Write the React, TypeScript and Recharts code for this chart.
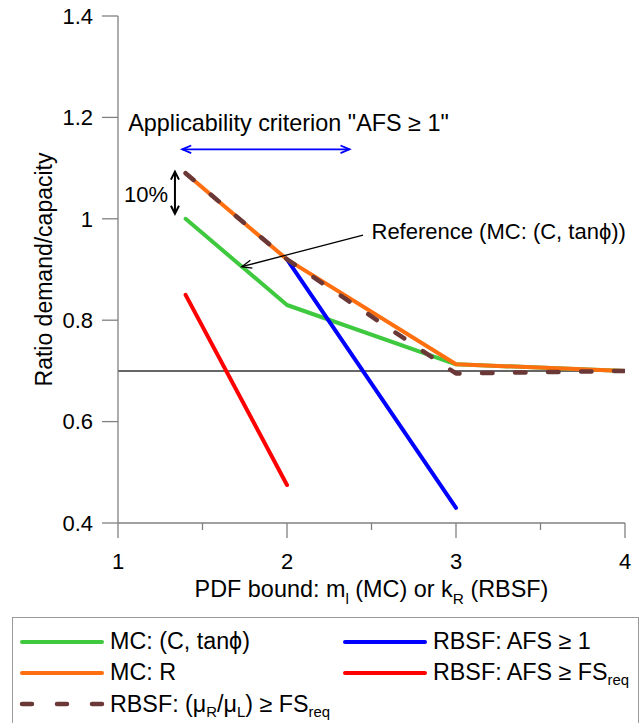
import React from 'react';
import { LineChart, Line, XAxis, YAxis, ReferenceLine, ReferenceDot, Legend } from 'recharts';

const FONT = '"Liberation Sans", Arial, Helvetica, sans-serif';

// ---------- data ----------
const mcCTanPhiX = [1.4, 2, 3, 4];
const mcCTanPhiY = [1.0, 0.83, 0.713, 0.7];
const mcRX = [1.4, 2, 3, 4];
const mcRY = [1.09, 0.92, 0.713, 0.7];
const rbsfAfs1X = [2, 3];
const rbsfAfs1Y = [0.92, 0.43];
const rbsfAfsFsX = [1.4, 2];
const rbsfAfsFsY = [0.85, 0.475];
const rbsfMuX = [1.4, 2, 3, 4];
const rbsfMuY = [1.09, 0.92, 0.695, 0.7];

const xTicks = [1, 1.5, 2, 2.5, 3, 3.5, 4];
const xMajorTicks = [1, 2, 3, 4];
const yTicks = [0.4, 0.6, 0.8, 1, 1.2, 1.4];
const thresholdValue = 0.7;

const xAxisTitle = 'PDF bound: m_{l} (MC) or k_{R} (RBSF)';
const yAxisTitle = 'Ratio demand/capacity';
const applicabilityText = 'Applicability criterion "AFS ≥ 1"';
const applicabilityRange = [1.38, 2.37];
const applicabilityLevel = 1.137;
const tenPctText = '10%';
const tenPctRange = [1.093, 1.01];
const tenPctX = 1.337;
const referenceText = 'Reference (MC: (C, tanϕ))';
const referenceArrowFrom = { x: 2.45, y: 0.968 };
const referenceArrowTo = { x: 1.732, y: 0.9055 };

const toPoints = (xs: number[], ys: number[]) => xs.map((x, i) => ({ x, y: ys[i] }));

type Series = { key: string; name: string; data: { x: number; y: number }[]; color: string; dash?: string; width: number };

const green: Series = { key: 'mcCT', name: 'MC: (C, tanϕ)', data: toPoints(mcCTanPhiX, mcCTanPhiY), color: '#3fc93f', width: 4 };
const orange: Series = { key: 'mcR', name: 'MC: R', data: toPoints(mcRX, mcRY), color: '#ff6f0f', width: 4 };
const dashed: Series = { key: 'rbsfMu', name: 'RBSF: (μ_{R}/μ_{L}) ≥ FS_{req}', data: toPoints(rbsfMuX, rbsfMuY), color: '#6b3838', dash: '10.5 22.5', width: 4.5 };
const blue: Series = { key: 'rbsfAfs1', name: 'RBSF: AFS ≥ 1', data: toPoints(rbsfAfs1X, rbsfAfs1Y), color: '#0000ff', width: 4 };
const red: Series = { key: 'rbsfAfsFs', name: 'RBSF: AFS ≥ FS_{req}', data: toPoints(rbsfAfsFsX, rbsfAfsFsY), color: '#ff0000', width: 4 };

const drawOrder = [green, red, blue, orange, dashed];
const legendOrder = [green, orange, dashed, blue, red];

// parse "abc_{sub}def" into segments
const parseRich = (s: string) => {
  const out: { t: string; sub: boolean }[] = [];
  const re = /_\{([^}]*)\}/g;
  let last = 0;
  let m: RegExpExecArray | null;
  while ((m = re.exec(s))) {
    if (m.index > last) out.push({ t: s.slice(last, m.index), sub: false });
    out.push({ t: m[1], sub: true });
    last = m.index + m[0].length;
  }
  if (last < s.length) out.push({ t: s.slice(last), sub: false });
  return out;
};

const richSvg = (s: string, fs: number) => {
  const segs = parseRich(s);
  let shifted = false;
  return segs.map((seg, i) => {
    let dy = 0;
    if (seg.sub && !shifted) { dy = fs * 0.28; shifted = true; }
    else if (!seg.sub && shifted) { dy = -fs * 0.28; shifted = false; }
    return (
      <tspan key={i} dy={dy} fontSize={seg.sub ? fs * 0.66 : fs}>{seg.t}</tspan>
    );
  });
};

const richHtml = (s: string) =>
  parseRich(s).map((seg, i) =>
    seg.sub ? (
      <sub key={i} style={{ fontSize: '0.64em', verticalAlign: '-0.35em', lineHeight: 0 }}>{seg.t}</sub>
    ) : (
      <span key={i}>{seg.t}</span>
    )
  );

const XTick = (props: any) => {
  const { x, y, payload } = props;
  const v = payload.value;
  const major = xMajorTicks.includes(v);
  const axisY = y - 30;
  return (
    <g>
      <line x1={x} x2={x} y1={axisY} y2={axisY + (major ? 15 : 7)} stroke="#808080" strokeWidth={1.3} />
      {major && (
        <text x={x} y={y} dy="0.71em" textAnchor="middle" fontSize={22} fontFamily={FONT} fill="#000">
          {v}
        </text>
      )}
    </g>
  );
};

const arrowShape = (color: string, width: number, both: boolean, headLen: number, headHalf: number) => (p: any) => {
  const x1 = Number(p.x1), y1 = Number(p.y1), x2 = Number(p.x2), y2 = Number(p.y2);
  if (![x1, y1, x2, y2].every(isFinite)) return <g />;
  const dx = x2 - x1, dy = y2 - y1;
  const len = Math.hypot(dx, dy) || 1;
  const ux = dx / len, uy = dy / len;
  const nx = -uy, ny = ux;
  const head = (hx: number, hy: number, dirx: number, diry: number) =>
    `M${hx - dirx * headLen + nx * headHalf},${hy - diry * headLen + ny * headHalf} L${hx},${hy} L${hx - dirx * headLen - nx * headHalf},${hy - diry * headLen - ny * headHalf}`;
  return (
    <g>
      <line x1={x1} y1={y1} x2={x2} y2={y2} stroke={color} strokeWidth={width} />
      <path d={head(x2, y2, ux, uy)} fill="none" stroke={color} strokeWidth={width} strokeLinejoin="miter" />
      {both && <path d={head(x1, y1, -ux, -uy)} fill="none" stroke={color} strokeWidth={width} strokeLinejoin="miter" />}
    </g>
  );
};

const textShape = (txt: string, anchor: 'start' | 'end' | 'middle', fs: number) => (p: any) => (
  <text x={p.cx} y={p.cy} textAnchor={anchor} fontSize={fs} fontFamily={FONT} fill="#000">
    {txt}
  </text>
);

const LegendBox = () => (
  <div
    style={{
      boxSizing: 'border-box',
      width: 627,
      height: 130,
      border: '1.5px solid #9a9a9a',
      padding: '8px 0 0 6px',
      display: 'grid',
      gridTemplateColumns: '323px auto',
      gridTemplateRows: '31.3px 31.3px 31.3px',
      gridAutoFlow: 'column',
      fontFamily: FONT,
      fontSize: 23.3,
      color: '#000',
      background: '#fff',
    }}
  >
    {legendOrder.map((s) => (
      <div key={s.key} style={{ display: 'flex', alignItems: 'center', whiteSpace: 'nowrap' }}>
        <svg width={86} height={12} style={{ marginRight: 5, flex: 'none' }}>
          <line
            x1={3}
            x2={83}
            y1={6}
            y2={6}
            stroke={s.color}
            strokeWidth={s.dash ? 4.5 : 4}
            strokeLinecap="round"
            strokeDasharray={s.dash ? '10 25' : undefined}
          />
        </svg>
        <span>{richHtml(s.name)}</span>
      </div>
    ))}
  </div>
);

export default function App() {
  return (
    <div style={{ position: 'absolute', left: 0, top: 0, width: 642, height: 723, background: '#fff', overflow: 'hidden' }}>
      <LineChart width={642} height={723} margin={{ top: 16, right: 17, left: 38, bottom: 120 }}>
        <XAxis
          type="number"
          dataKey="x"
          domain={[1, 4]}
          ticks={xTicks}
          allowDataOverflow
          tick={<XTick />}
          tickLine={false}
          tickSize={15}
          tickMargin={15}
          height={80}
          axisLine={{ stroke: '#808080', strokeWidth: 1.3 }}
          label={{
            content: (lp: any) => {
              const vb = lp.viewBox || {};
              return (
                <text x={vb.x + vb.width / 2} y={vb.y + 74} textAnchor="middle" fontSize={23.4} fontFamily={FONT} fill="#000">
                  {richSvg(xAxisTitle, 23.4)}
                </text>
              );
            },
          }}
        />
        <YAxis
          type="number"
          dataKey="y"
          domain={[0.4, 1.4]}
          ticks={yTicks}
          allowDataOverflow
          width={80}
          tickSize={16}
          tickMargin={9}
          tickFormatter={(v: number) => `${+v.toFixed(2)}`}
          tick={{ fontSize: 22, fontFamily: FONT, fill: '#000' }}
          tickLine={{ stroke: '#808080', strokeWidth: 1.3 }}
          axisLine={{ stroke: '#808080', strokeWidth: 1.3 }}
          label={{
            content: (lp: any) => {
              const vb = lp.viewBox || {};
              const cx = 52;
              const cy = vb.y + vb.height / 2;
              return (
                <text x={cx} y={cy} transform={`rotate(-90, ${cx}, ${cy})`} textAnchor="middle" fontSize={23} fontFamily={FONT} fill="#000">
                  {yAxisTitle}
                </text>
              );
            },
          }}
        />
        <ReferenceLine y={thresholdValue} stroke="#333333" strokeWidth={1.5} />
        {drawOrder.map((s) => (
          <Line
            key={s.key}
            data={s.data}
            dataKey="y"
            name={s.name}
            type="linear"
            stroke={s.color}
            strokeWidth={s.width}
            strokeDasharray={s.dash}
            strokeLinecap="round"
            strokeLinejoin="round"
            dot={false}
            activeDot={false}
            isAnimationActive={false}
          />
        ))}
        <ReferenceDot x={1.06} y={1.174} r={0} shape={textShape(applicabilityText, 'start', 23.4)} />
        <ReferenceLine
          segment={[
            { x: applicabilityRange[0], y: applicabilityLevel },
            { x: applicabilityRange[1], y: applicabilityLevel },
          ]}
          shape={arrowShape('#0000ff', 1.8, true, 9, 3.8)}
        />
        <ReferenceLine
          segment={[
            { x: tenPctX, y: tenPctRange[0] },
            { x: tenPctX, y: tenPctRange[1] },
          ]}
          shape={arrowShape('#000', 2, true, 8, 4)}
        />
        <ReferenceDot x={1.296} y={1.034} r={0} shape={textShape(tenPctText, 'end', 22)} />
        <ReferenceLine segment={[referenceArrowFrom, referenceArrowTo]} shape={arrowShape('#000', 1.3, false, 10, 4)} />
        <ReferenceDot x={2.5} y={0.96} r={0} shape={textShape(referenceText, 'start', 22)} />
        <Legend
          layout="vertical"
          verticalAlign="middle"
          align="center"
          content={() => <LegendBox />}
          wrapperStyle={{ left: 12, top: 617, width: 627, height: 130, margin: 0 }}
        />
      </LineChart>
    </div>
  );
}
